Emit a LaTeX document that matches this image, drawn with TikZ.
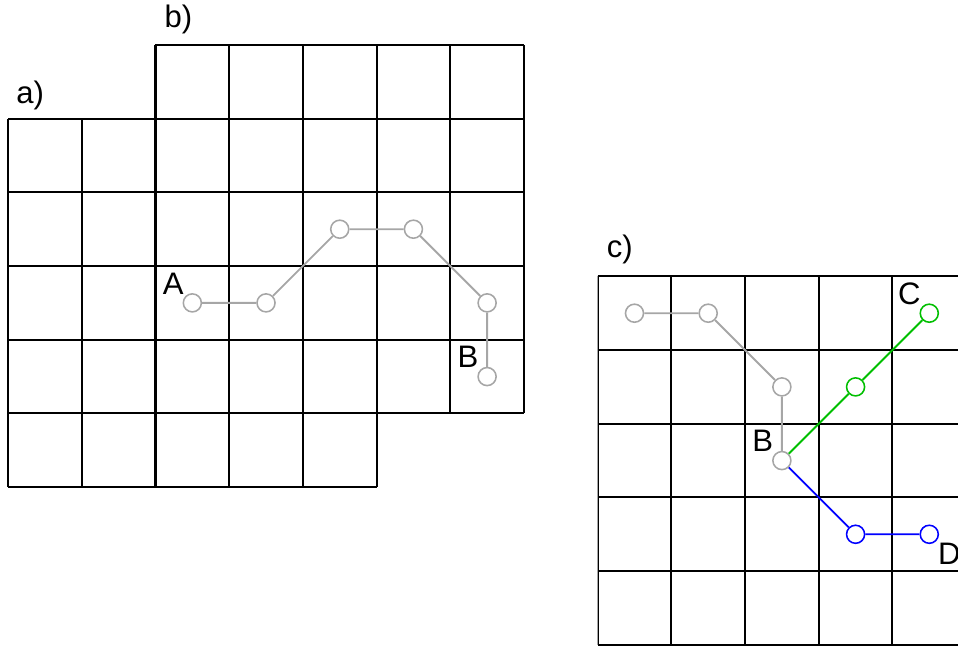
\documentclass[tikz,border=0pt]{standalone}
\usepackage{fontspec}
\setmainfont{Liberation Sans}
\usetikzlibrary{calc}

\begin{document}
\begin{tikzpicture}[
    cell/.style={line width=0.8pt,black},
    pt/.style={circle,draw=#1,fill=white,line width=0.6pt,minimum size=0.245cm,inner sep=0pt},
    pt/.default=gray!70,
    lnk/.style={line width=0.7pt},
    lbl/.style={font=\fontsize{12}{14}\selectfont,inner sep=0.5pt},
    tag/.style={font=\fontsize{12}{14}\selectfont,inner sep=0pt}]
    \useasboundingbox (0,0) rectangle (13.0,8.79);
    % --- panels a and b : lattice with the gray walk from A to B
    \begin{scope}[shift={(0.11,2.18)}]
      \draw[cell] (2,5) grid (7,6);
      \draw[cell] (0,1) grid (7,5);
      \draw[cell] (0,0) grid (5,1);
      \node[pt,label={[lbl]135:A}] (a1) at (2.5,2.5) {};
      \node[pt] (a2) at (3.5,2.5) {};
      \node[pt] (a3) at (4.5,3.5) {};
      \node[pt] (a4) at (5.5,3.5) {};
      \node[pt] (a5) at (6.5,2.5) {};
      \node[pt,label={[lbl]135:B}] (a6) at (6.5,1.5) {};
      \draw[lnk,gray!70] (a1) -- (a2) -- (a3) -- (a4) -- (a5) -- (a6);
    \end{scope}
    \node[tag] (ta) at (0.41,7.50) {a)};
    \node[tag] (tb) at (2.42,8.52) {b)};
    % --- panel c : walk splitting at B towards C and D
    \begin{scope}[shift={(8.11,0.04)}]
      \begin{scope}
        \clip (0,-0.1) rectangle (4.89,5.1);
        \draw[cell] (0,0) grid (5,5);
      \end{scope}
      \node[pt] (c1) at (0.5,4.5) {};
      \node[pt] (c2) at (1.5,4.5) {};
      \node[pt] (c3) at (2.5,3.5) {};
      \node[pt,label={[lbl]135:B}] (cb) at (2.5,2.5) {};
      \node[pt=green!75!black] (g1) at (3.5,3.5) {};
      \node[pt=green!75!black,label={[lbl]135:C}] (gc) at (4.5,4.5) {};
      \node[pt=blue] (b1) at (3.5,1.5) {};
      \node[pt=blue,label={[lbl]-45:D}] (bd) at (4.5,1.5) {};
      \draw[lnk,gray!70] (c1) -- (c2) -- (c3) -- (cb);
      \draw[lnk,green!75!black] (cb) -- (g1) -- (gc);
      \draw[lnk,blue] (cb) -- (b1) -- (bd);
    \end{scope}
    \node[tag] (tc) at (8.41,5.40) {c)};
  \end{tikzpicture}
\end{document}
